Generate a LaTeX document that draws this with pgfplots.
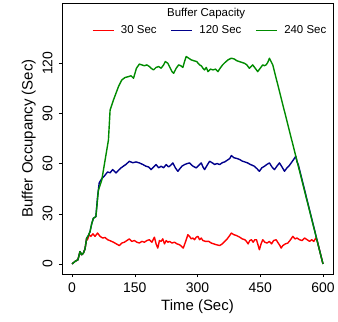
\documentclass[border=0pt]{standalone}
\usepackage{pgfplots}
\pgfplotsset{compat=1.18}
\usepackage{fontspec}
\setmainfont{Liberation Sans}
\definecolor{cred}{HTML}{FF0000}
\definecolor{cblue}{HTML}{00008B}
\definecolor{cgreen}{HTML}{008B00}
\begin{document}
\begin{tikzpicture}
\useasboundingbox (-62bp,-48bp) rectangle (276bp,274bp);
\begin{axis}[
  at={(0,0)}, anchor=south west,
  scale only axis,
  width=271bp, height=271bp,
  xmin=-24, xmax=624, ymin=-6, ymax=156,
  xtick={0,150,300,450,600},
  ytick={0,30,60,90,120},
  axis x line*=box, axis y line*=box,
  tick align=outside,
  major tick length=3bp,
  xtick pos=bottom, ytick pos=left,
  tick style={black, line width=0.5pt},
  axis line style={black, line width=0.6pt},
  ticklabel style={font=\fontsize{14}{14}\selectfont},
  yticklabel style={rotate=90, anchor=south, yshift=0bp},
  yticklabel shift=3bp,
  xticklabel shift=2bp,
  xlabel={Time (Sec)}, ylabel={Buffer Occupancy (Sec)},
  label style={font=\fontsize{15}{15}\selectfont},
  xlabel style={yshift=0bp},
  ylabel style={yshift=0bp},
  /pgf/number format/assume math mode=true,
  legend columns=3,
  legend style={draw=none, fill=none, at={(0.547,0.90)}, anchor=center,
    font=\fontsize{11.5}{11.5}\selectfont,
    /tikz/every odd column/.append style={column sep=5bp},
    /tikz/every even column/.append style={column sep=12bp}},
  legend image code/.code={\draw[#1, line width=0.8pt] (0bp,0bp) -- (21bp,0bp);},
  every axis plot/.append style={line width=1.4pt, line join=round},
]
\addplot[cred] coordinates {
(0,0) (7,1.5) (14,2.5) (19,7.4) (23,5.5) (27,6.4) (31,9) (35,15.3) (37,14.5) (41,17.5) (45,16.5)
(50,18) (55,16.5) (61,18.5) (67,16.5) (73,15.5) (79,15.8) (85,14.5) (92,13.8) (99,13) (106,12) (113,11)
(119,12.5) (125,13) (131,14) (137,15) (143,13.5) (149,14) (155,13) (161,12.5) (167,13.5) (173,13) (179,14) (185,14.5)
(191,13) (197,16) (201,12) (205,9.5) (209,14) (213,13.5) (217,15) (221,12) (225,14) (229,13) (233,13.5) (239,12.5)
(245,13) (251,12) (257,11.5) (262,10.5) (266,9.5) (271,13) (277,17.5) (281,16.5) (285,15) (289,15.5) (293,14.5)
(297,16) (301,16.5) (305,14.5) (309,15.5) (313,14) (319,13.5) (327,13.5) (333,12.5) (339,12) (345,11.5) (353,11)
(359,12) (365,13.5) (371,15) (377,17) (381,18.5) (387,17.5) (393,17) (401,16) (407,15) (413,14.5) (417,13.5)
(421,12) (425,14) (429,14.5) (433,13) (437,14.5) (441,14.5) (444,12) (448,8.5) (452,12) (456,14.5) (461,13)
(466,12.5) (472,13.5) (477,12) (482,14) (488,14.5) (493,12.5) (497,11) (500,9.5) (504,11) (510,12) (516,12.5)
(521,14) (528,16.5) (533,15) (538,15.5) (544,14.5) (550,14) (556,15.5) (562,14.5) (568,13.5) (573,14.5) (578,13.5) (583,15.5) (586,14) (600,0)
};
\addlegendentry{30 Sec}
\addplot[cblue] coordinates {
(0,0) (7,1.5) (14,2.5) (19,7.4) (23,5.5) (27,6.4) (31,9) (35,15.3) (39,17) (43,19.3) (47,24) (51,27.3)
(57,28.3) (61,40) (65,48.5) (71,51) (77,52.5) (85,55) (91,54.5) (97,56.4) (101,55.5) (105,54.4) (111,56)
(117,57.4) (123,58.5) (129,59.5) (137,61.4) (145,60.5) (153,61) (161,60.4) (169,59.5) (177,58.4) (183,58)
(189,56.4) (195,58) (201,59.4) (207,57.5) (213,58.4) (219,57.5) (225,59.4) (231,58) (236,59) (241,60.4)
(247,57.5) (253,55.4) (258,57) (263,58.5) (269,59.4) (275,60) (281,60.4) (285,59.4) (289,58.5) (297,57.4)
(303,59) (309,60.4) (313,58) (317,56.4) (323,59) (329,61.4) (335,60.5) (341,59.5) (347,60) (353,59.4)
(359,60.5) (365,61) (371,62) (377,63) (381,64.8) (387,63.5) (395,63) (401,62.4) (407,61.5) (413,61)
(420,60.4) (426,59.5) (431,59) (436,58.4) (442,57) (448,55.4) (454,57.5) (460,58.4) (466,59.5) (472,60.4)
(478,58) (484,56.4) (490,58.5) (496,60.4) (502,58) (508,55.4) (514,57.5) (520,59) (524,60.4) (530,62.5)
(535,64.4) (538,61) (541,59.4) (600,0)
};
\addlegendentry{120 Sec}
\addplot[cgreen] coordinates {
(0,0) (7,1.5) (14,2.5) (19,7.4) (23,5.5) (27,6.4) (31,9) (35,15.3) (39,17) (43,19.3) (47,24) (51,27.3)
(57,28.3) (60,36) (63,44) (67,47) (71,50) (75,56) (79,62) (83,68) (87,74) (91,92) (95,95) (99,98)
(105,102) (111,106) (115,108) (119,110) (127,111.5) (135,112) (141,112.5) (147,111) (154,117) (161,119.5)
(167,119) (173,118.5) (179,119) (185,118) (189,117) (195,116) (201,117.5) (207,118) (213,117) (219,119) (223,121)
(229,120) (235,117) (239,115) (243,114) (249,117) (255,119) (260,118.5) (265,117.5) (269,121) (273,124)
(279,123) (285,122) (291,121.5) (298,121) (305,119) (309,118.5) (313,117) (317,116) (321,117.5) (325,115)
(331,116.5) (337,116) (343,116.5) (349,115) (354,117) (360,119) (366,120.5) (373,122) (381,123) (388,122.5)
(394,121.5) (400,121) (406,120.5) (412,120) (418,119) (424,117) (428,118) (432,119) (438,117) (444,115)
(450,117) (456,119) (460,118.5) (464,119) (468,120.5) (472,123) (476,121) (480,119) (600,0)
};
\addlegendentry{240 Sec}
\node[font=\fontsize{11.5}{11.5}\selectfont] at (axis description cs:0.532,0.962) {Buffer Capacity};
\end{axis}
\end{tikzpicture}
\end{document}
